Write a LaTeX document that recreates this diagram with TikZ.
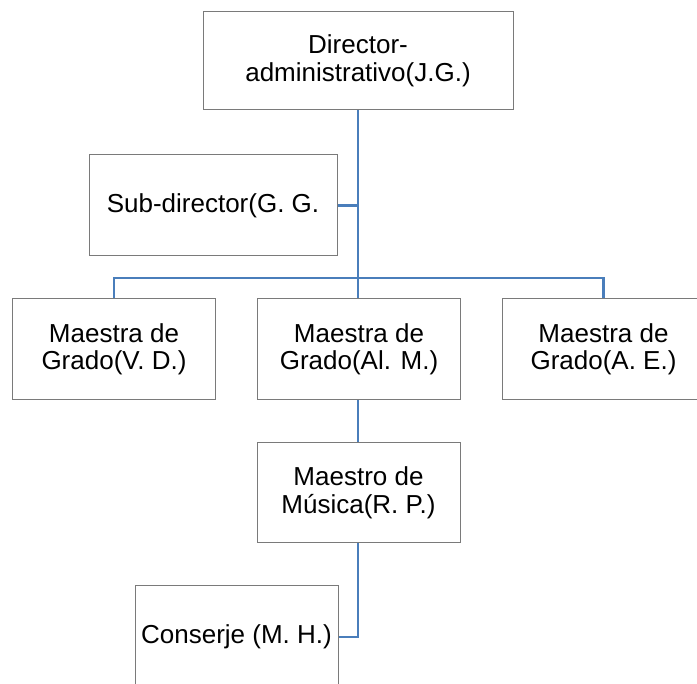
\documentclass[tikz,border=0pt]{standalone}
\usepackage{fontspec}
\setmainfont{Liberation Sans}
\definecolor{lineablu}{HTML}{4A7EBB}
\definecolor{bordo}{HTML}{7A7A7A}
\begin{document}
\begin{tikzpicture}[
  x=1pt, y=-1pt,
  font=\fontsize{26}{27.5}\selectfont,
  box/.style={draw=bordo, line width=1pt, fill=white, align=center,
              inner sep=0pt, minimum width=203pt, minimum height=101pt},
  conn/.style={draw=lineablu, line width=2.2pt}
]
\useasboundingbox (0,0) rectangle (697,684);
\clip (0,0) rectangle (697,684);

% Nodo principale
\node[box, minimum width=310pt, minimum height=98pt] (dir) at (358,61)
  {Director-\\administrativo(J.G.)};
\node[box, minimum width=248pt] (sub) at (213,205.5) {Sub-director(G. G.};

% ====================== MAESTRAS ======================
\node[box] (vd) at (114,349.5)   {Maestra de\\Grado(V. D.)};
\node[box] (am) at (359,349.5)   {Maestra de\\Grado(Al. M.)};
\node[box] (ae) at (603.5,349.5) {Maestra de\\Grado(A. E.)};

% ====================== SOTTO ======================
\node[box, minimum height=100pt] (mus) at (358.5,493) {Maestro de\\Música(R. P.)};
\node[box, minimum height=102pt] (cons) at (236.5,637) {Conserje (M. H.)};

\coordinate (bus) at (358,278);

% collegamenti
\draw[conn] (dir.south) -- (bus);
\draw[conn] (sub.east) -- (sub.east -| dir.south);
\draw[conn] (vd.north) |- (bus) -| (ae.north);
\draw[conn] (bus) -- (bus |- am.north);
\draw[conn] (am.south -| bus) -- (bus |- mus.north);
\draw[conn] (bus |- mus.south) |- (cons.east);

\end{tikzpicture}
\end{document}
